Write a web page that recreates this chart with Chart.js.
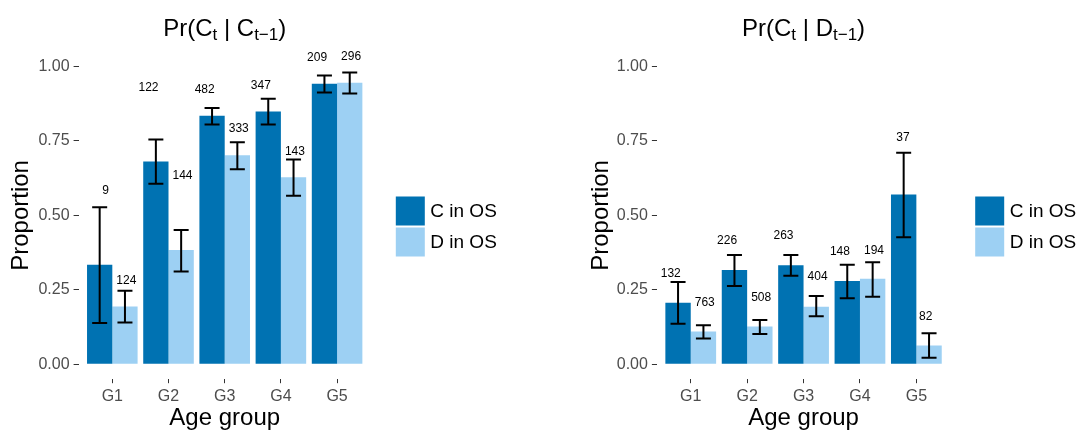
<!DOCTYPE html>
<html>
<head>
<meta charset="utf-8">
<script src="https://cdn.jsdelivr.net/npm/chart.js@4.4.1/dist/chart.umd.min.js"></script>
<style>
  body { margin: 0; background: #fff; }
  .row { display: flex; width: 1081px; height: 430px; }
  canvas { display: block; }
</style>
</head>
<body>
<div class="row">
  <canvas id="afterC" width="540" height="430"></canvas>
  <canvas id="afterD" width="541" height="430"></canvas>
</div>
<script>
const groups = ['G1', 'G2', 'G3', 'G4', 'G5'];
const seriesNames = ['C in OS', 'D in OS'];
const yTicks = [0, 0.25, 0.5, 0.75, 1];

// Pr(C_t | C_t-1): previous choice C
const ccProp = [0.334, 0.681, 0.835, 0.849, 0.942];
const ccLow = [0.139, 0.606, 0.805, 0.805, 0.913];
const ccHigh = [0.527, 0.755, 0.861, 0.892, 0.970];
const ccN = [9, 122, 482, 347, 209];
const ccLabelY = [0.582, 0.930, 0.921, 0.937, 1.031];

const cdProp = [0.194, 0.384, 0.702, 0.628, 0.945];
const cdLow = [0.140, 0.312, 0.655, 0.566, 0.909];
const cdHigh = [0.247, 0.451, 0.746, 0.688, 0.980];
const cdN = [124, 144, 333, 143, 296];
const cdLabelY = [0.281, 0.633, 0.791, 0.715, 1.033];

// Pr(C_t | D_t-1): previous choice D
const dcProp = [0.207, 0.317, 0.333, 0.280, 0.570];
const dcLow = [0.136, 0.263, 0.297, 0.222, 0.427];
const dcHigh = [0.276, 0.367, 0.367, 0.334, 0.710];
const dcN = [132, 226, 263, 148, 37];
const dcLabelY = [0.303, 0.414, 0.431, 0.378, 0.761];

const ddProp = [0.110, 0.127, 0.193, 0.287, 0.063];
const ddLow = [0.087, 0.102, 0.161, 0.227, 0.022];
const ddHigh = [0.131, 0.149, 0.229, 0.343, 0.104];
const ddN = [763, 508, 404, 194, 82];
const ddLabelY = [0.208, 0.224, 0.294, 0.383, 0.161];

const colC = '#0072B2';
const colD = '#9DD0F3';
const FONT = '"Liberation Sans", Arial, Helvetica, sans-serif';

Chart.defaults.font.family = FONT;

// error bars, n labels, legend and the plotmath-like title
const panelExtras = {
  id: 'panelExtras',
  afterDraw(chart, args, opts) {
    const ctx = chart.ctx;
    const xs = chart.scales.x, ys = chart.scales.y;
    const area = chart.chartArea;
    ctx.save();

    chart.data.datasets.forEach((ds, di) => {
      const s = opts.series[di];
      const meta = chart.getDatasetMeta(di);
      ctx.strokeStyle = '#000';
      ctx.lineWidth = 2;
      meta.data.forEach((bar, i) => {
        const x = bar.x;
        const lo = ys.getPixelForValue(s.low[i]);
        const hi = ys.getPixelForValue(s.high[i]);
        ctx.beginPath();
        ctx.moveTo(x, lo); ctx.lineTo(x, hi);
        ctx.moveTo(x - 7.5, lo); ctx.lineTo(x + 7.5, lo);
        ctx.moveTo(x - 7.5, hi); ctx.lineTo(x + 7.5, hi);
        ctx.stroke();
      });

      ctx.fillStyle = '#000';
      ctx.font = '12px ' + FONT;
      ctx.textAlign = 'center';
      ctx.textBaseline = 'middle';
      s.n.forEach((n, i) => {
        const txt = String(n);
        const w = ctx.measureText(txt).width;
        const gx = xs.getPixelForValue(i + 1);
        const x = di === 0 ? gx - w : gx + 0.7 * w;
        ctx.fillText(txt, x, ys.getPixelForValue(s.labelY[i]));
      });
    });

    // legend
    const lx = area.right + 25;
    chart.data.datasets.forEach((ds, di) => {
      const top = 196.5 + di * 31;
      ctx.fillStyle = ds.backgroundColor;
      ctx.fillRect(lx, top, 29, 29);
      ctx.fillStyle = '#000';
      ctx.font = '19px ' + FONT;
      ctx.textAlign = 'left';
      ctx.textBaseline = 'middle';
      ctx.fillText(ds.label, lx + 34.5, top + 15);
    });

    // title with subscripts
    const parts = opts.title;
    ctx.textBaseline = 'alphabetic';
    ctx.textAlign = 'left';
    let total = 0;
    parts.forEach(p => {
      ctx.font = (p.sub ? 17 : 24) + 'px ' + FONT;
      p.w = ctx.measureText(p.t).width;
      total += p.w;
    });
    let x = (area.left + area.right) / 2 - total / 2;
    parts.forEach(p => {
      ctx.font = (p.sub ? 17 : 24) + 'px ' + FONT;
      ctx.fillText(p.t, x, p.sub ? 40 : 36);
      x += p.w;
    });
    ctx.restore();
  }
};

function makePanel(id, cfg) {
  new Chart(document.getElementById(id), {
    type: 'bar',
    data: {
      datasets: [
        {
          label: seriesNames[0],
          data: cfg.cProp.map((v, i) => ({ x: i + 1, y: v })),
          backgroundColor: colC,
        },
        {
          label: seriesNames[1],
          data: cfg.dProp.map((v, i) => ({ x: i + 1, y: v })),
          backgroundColor: colD,
        },
      ],
    },
    options: {
      responsive: false,
      animation: false,
      datasets: { bar: { categoryPercentage: 0.9, barPercentage: 1.0, borderWidth: 0 } },
      layout: { padding: { left: 0, top: 51.6, right: cfg.padRight, bottom: 0 } },
      plugins: {
        legend: { display: false },
        tooltip: { enabled: false },
        panelExtras: { series: cfg.series, title: cfg.title },
      },
      scales: {
        x: {
          type: 'linear',
          min: 0.4,
          max: 5.6,
          offset: false,
          afterBuildTicks: s => { s.ticks = groups.map((g, i) => ({ value: i + 1 })); },
          afterFit: s => { s.height = 50.8; },
          ticks: { callback: v => groups[v - 1], color: '#4d4d4d', font: { size: 16 }, padding: 4 },
          grid: { offset: false, drawOnChartArea: false, drawTicks: true, tickLength: 4, color: '#333' },
          border: { display: false },
          title: { display: true, text: 'Age group', color: '#000', font: { size: 24, lineHeight: 1 }, padding: 0 },
        },
        y: {
          min: -0.05,
          max: 1.05,
          afterBuildTicks: s => { s.ticks = yTicks.map(v => ({ value: v })); },
          afterFit: s => { s.width = cfg.yWidth; },
          ticks: { callback: v => v.toFixed(2), color: '#4d4d4d', font: { size: 16 }, padding: 4 },
          grid: { drawOnChartArea: false, drawTicks: true, tickLength: 5, color: '#333' },
          border: { display: false },
          title: { display: true, text: 'Proportion', color: '#000', font: { size: 24, lineHeight: 1 }, padding: { top: cfg.yTitlePad, bottom: 0 } },
        },
      },
    },
    plugins: [panelExtras],
  });
}

makePanel('afterC', {
  cProp: ccProp,
  dProp: cdProp,
  series: [
    { low: ccLow, high: ccHigh, n: ccN, labelY: ccLabelY },
    { low: cdLow, high: cdHigh, n: cdN, labelY: cdLabelY },
  ],
  title: [{ t: 'Pr(C' }, { t: 't', sub: true }, { t: ' | C' }, { t: 't\u22121', sub: true }, { t: ')' }],
  yWidth: 78.6,
  yTitlePad: 9.5,
  padRight: 169.2,
});

makePanel('afterD', {
  cProp: dcProp,
  dProp: ddProp,
  series: [
    { low: dcLow, high: dcHigh, n: dcN, labelY: dcLabelY },
    { low: ddLow, high: ddHigh, n: ddN, labelY: ddLabelY },
  ],
  title: [{ t: 'Pr(C' }, { t: 't', sub: true }, { t: ' | D' }, { t: 't\u22121', sub: true }, { t: ')' }],
  yWidth: 116.9,
  yTitlePad: 49.5,
  padRight: 130.8,
});
</script>
</body>
</html>
